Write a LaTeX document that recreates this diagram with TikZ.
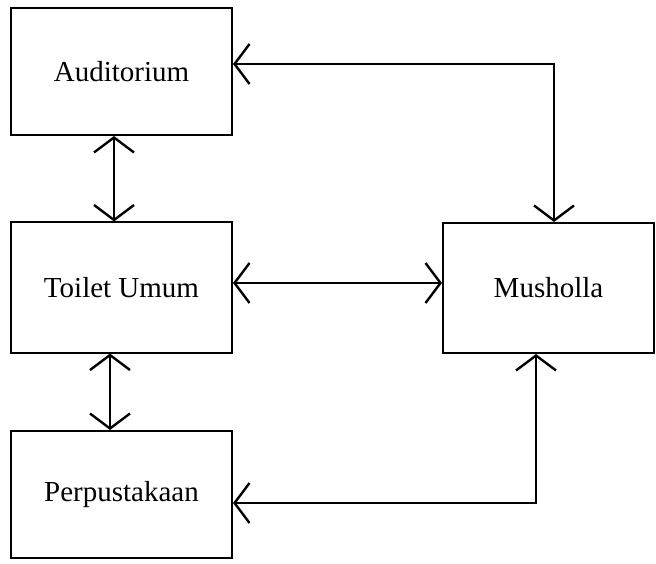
\documentclass[tikz,border=0pt]{standalone}
\usepackage{fontspec}
\setmainfont{Liberation Serif}
\usetikzlibrary{arrows.meta}
\begin{document}
\begin{tikzpicture}[x=1pt,y=-1pt,
  room/.style={draw=black, line width=2pt, minimum width=221pt, inner sep=0pt,
    font=\fontsize{29}{34}\selectfont},
  barb/.tip={Straight Barb[length=15pt,width=40pt,line width=2.4pt]},
  link/.style={line width=2pt, barb-barb}]
  \useasboundingbox[fill=white] (0,0) rectangle (656,564);

  % rooms
  \node[room, minimum height=127pt] (aud)  at (121.5,71.5)  {Auditorium};
  \node[room, minimum height=130pt] (toil) at (121.5,287.5) {Toilet Umum};
  \node[room, minimum height=127pt] (perp) at (121.5,494.5) {Perpustakaan};
  \node[room, minimum height=130pt, minimum width=211pt] (mush) at (548.5,288) {Musholla};

  % relations between rooms
  \draw[link] ([xshift=-7.5pt]aud.south) -- ([xshift=-7.5pt]toil.north);
  \draw[link] ([xshift=-11.5pt]toil.south) -- ([xshift=-11.5pt]perp.north);
  \draw[link] ([yshift=4.5pt]toil.east) -- ([yshift=5pt]mush.west);
  \draw[link] ([yshift=7.5pt]aud.east) -| ([xshift=5.5pt]mush.north);
  \draw[link] ([yshift=-8.5pt]perp.east) -| ([xshift=-12.5pt]mush.south);
\end{tikzpicture}
\end{document}
